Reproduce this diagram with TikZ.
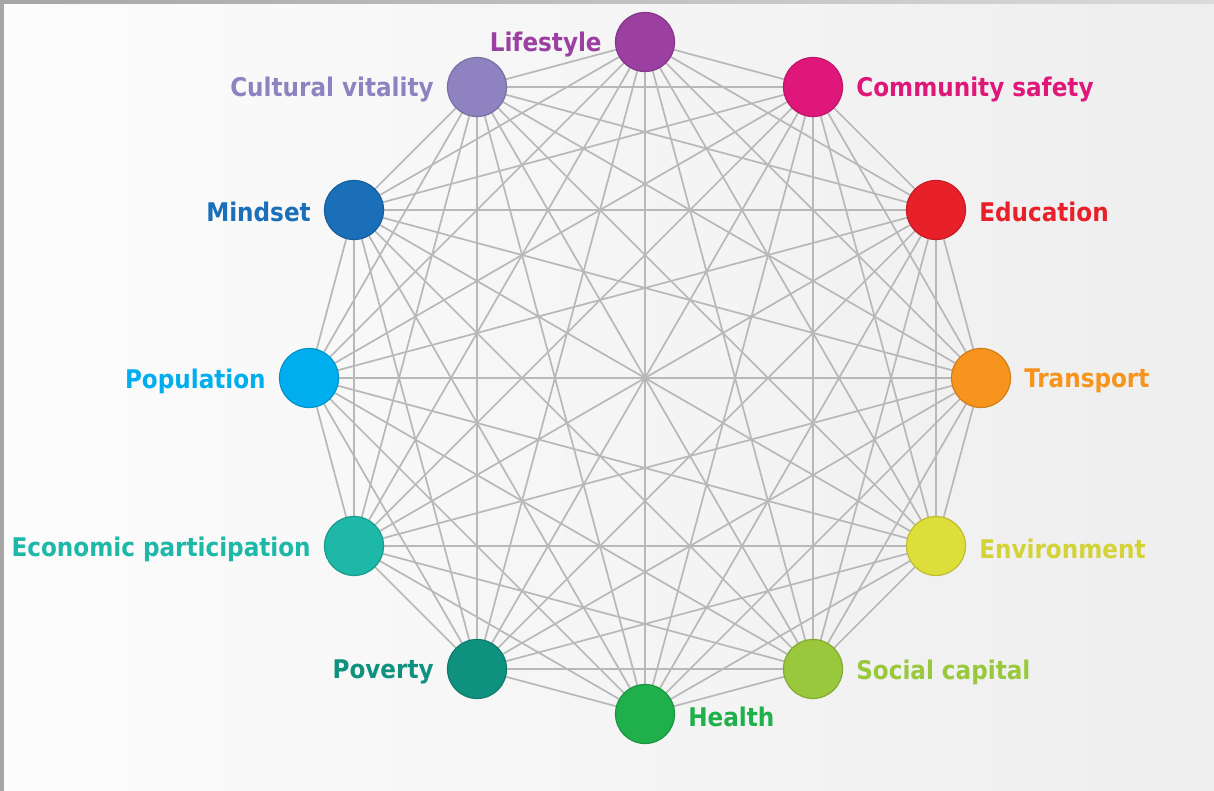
\documentclass[tikz,border=0pt]{standalone}
\usepackage{fontspec}
\setmainfont{DejaVu Sans Condensed}
\definecolor{bgL}{HTML}{FCFCFC}
\definecolor{bgR}{HTML}{EEEEEE}
\definecolor{frameL}{HTML}{A6A6A6}
\definecolor{frameR}{HTML}{DADADA}
\definecolor{edgegray}{HTML}{B8B8B8}
\definecolor{cLife}{HTML}{9B3FA0}
\definecolor{cComm}{HTML}{E0177A}
\definecolor{cEdu}{HTML}{E8202A}
\definecolor{cTrans}{HTML}{F7941D}
\definecolor{cEnv}{HTML}{DEDE3A}
\definecolor{cSoc}{HTML}{9AC83C}
\definecolor{cHealth}{HTML}{1FB04C}
\definecolor{cPov}{HTML}{0F9180}
\definecolor{cEcon}{HTML}{1DB8A8}
\definecolor{cPop}{HTML}{00AEEF}
\definecolor{cMind}{HTML}{1A6FB8}
\definecolor{cCult}{HTML}{8E83C0}
\pgfdeclarelayer{bg}
\pgfdeclarelayer{edges}
\pgfsetlayers{bg,edges,main}
\begin{document}
\begin{tikzpicture}[x=1pt,y=1pt,
  edge/.style={draw=edgegray, line width=1.7pt},
  dot/.style={circle, minimum size=59pt, inner sep=0pt, line width=1.2pt},
  lab/.style={font=\bfseries\fontsize{25.7}{30}\selectfont, inner sep=0pt}]
\useasboundingbox (0,0) rectangle (1214,791);
\begin{pgfonlayer}{bg}
\shade[left color=bgL, right color=bgR] (0,0) rectangle (1214,791);
\fill[frameL] (0,0) rectangle (4,791);
\shade[left color=frameL, right color=frameR] (0,787) rectangle (1214,791);
\end{pgfonlayer}
\coordinate (c) at (645,413);
\foreach \i/\a/\col in {1/90/cLife, 2/60/cComm, 3/30/cEdu, 4/0/cTrans, 5/-30/cEnv, 6/-60/cSoc, 7/-90/cHealth, 8/-120/cPov, 9/-150/cEcon, 10/180/cPop, 11/150/cMind, 12/120/cCult}
  \node[dot, fill=\col, draw=\col!85!black] (n\i) at ([shift={(\a:336)}]c) {};
\begin{pgfonlayer}{edges}
\foreach \i in {1,...,11}{
  \pgfmathtruncatemacro\s{\i+1}
  \foreach \j in {\s,...,12}
    \draw[edge] (n\i.center) -- (n\j.center);
}
\end{pgfonlayer}
\node[lab, text=cLife, anchor=east] (l1) at ([xshift=-13pt,yshift=-3pt]n1.west) {Lifestyle};
\node[lab, text=cComm, anchor=west] (l2) at ([xshift=13pt,yshift=-3pt]n2.east) {Community safety};
\node[lab, text=cEdu, anchor=west] (l3) at ([xshift=13pt,yshift=-2pt]n3.east) {Education};
\node[lab, text=cTrans, anchor=west] (l4) at ([xshift=13pt,yshift=-3pt]n4.east) {Transport};
\node[lab, text=cEnv!95!black, anchor=west] (l5) at ([xshift=13pt,yshift=-3pt]n5.east) {Environment};
\node[lab, text=cSoc, anchor=west] (l6) at ([xshift=13pt,yshift=-3pt]n6.east) {Social capital};
\node[lab, text=cHealth, anchor=west] (l7) at ([xshift=13pt,yshift=-3pt]n7.east) {Health};
\node[lab, text=cPov, anchor=east] (l8) at ([xshift=-13pt,yshift=-3pt]n8.west) {Poverty};
\node[lab, text=cEcon, anchor=east] (l9) at ([xshift=-13pt,yshift=-3pt]n9.west) {Economic participation};
\node[lab, text=cPop, anchor=east] (l10) at ([xshift=-13pt,yshift=-3pt]n10.west) {Population};
\node[lab, text=cMind, anchor=east] (l11) at ([xshift=-13pt,yshift=-2pt]n11.west) {Mindset};
\node[lab, text=cCult, anchor=east] (l12) at ([xshift=-13pt,yshift=-3pt]n12.west) {Cultural vitality};
\end{tikzpicture}
\end{document}
